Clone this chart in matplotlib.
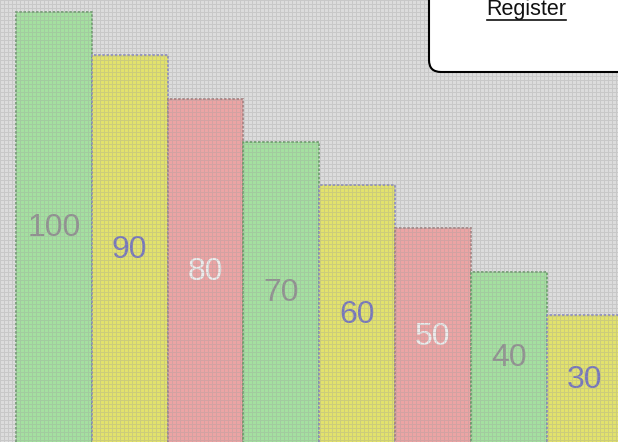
import numpy as np
import matplotlib
matplotlib.use("Agg")
import matplotlib.pyplot as plt
from matplotlib.patches import FancyBboxPatch
from matplotlib.lines import Line2D

values = [100, 90, 80, 70, 60, 50, 40, 30]
labels = ["100", "90", "80", "70", "60", "50", "40", "30"]
bar_colors = ["#a4e0a0", "#e2e26c", "#eca4a4", "#a4e0a0", "#e2e26c", "#eca4a4", "#a4e0a0", "#e2e26c"]
edge_colors = ["#6a9a6a", "#8a8ac0", "#a08080", "#6a9a6a", "#8a8ac0", "#a08080", "#6a9a6a", "#8a8ac0"]
text_colors = ["#909090", "#7676bc", "#ececec", "#909090", "#7676bc", "#ececec", "#909090", "#7676bc"]

plt.rcParams['font.family'] = ['Liberation Sans', 'DejaVu Sans']

fig = plt.figure(figsize=(6.18, 4.42), dpi=100)
fig.patch.set_facecolor("#dcdcdc")
ax = fig.add_axes([0, 0, 1, 1])
ax.set_facecolor("#dcdcdc")

x = np.arange(len(values))
ax.bar(x, values, width=1.0, color=bar_colors, edgecolor=edge_colors,
       linewidth=1.2, linestyle=(0, (1.5, 1)), zorder=2)
for xi, v, lab, tc in zip(x, values, labels, text_colors):
    ax.text(xi, v / 2, lab, ha="center", va="center", fontsize=23, color=tc, zorder=4)

ax.set_xlim(-0.711, 7.442)
ax.set_ylim(0.69, 102.77)
ax.axis("off")

# fine grid texture over everything
H, W = 442, 618
tex = np.zeros((H, W, 4))
tex[..., :3] = 0.62
for i in range(0, W, 4):
    tex[:, i, 3] = 0.32
for j in range(0, H, 4):
    tex[j, :, 3] = np.maximum(tex[j, :, 3], 0.32)
tax = fig.add_axes([0, 0, 1, 1], zorder=3)
tax.imshow(tex, aspect="auto", interpolation="nearest")
tax.axis("off")

# Register box
box_ax = fig.add_axes([0, 0, 1, 1], zorder=5)
box_ax.set_xlim(0, W)
box_ax.set_ylim(H, 0)
box_ax.axis("off")
box = FancyBboxPatch((429, -30), 230, 102, boxstyle="round,pad=0,rounding_size=12",
                     facecolor="white", edgecolor="black", linewidth=1.5)
box_ax.add_patch(box)
box_ax.text(526, 9, "Register", ha="center", va="center", fontsize=15.5, color="#111111")
box_ax.add_line(Line2D([487, 566], [19.5, 19.5], color="#111111", linewidth=1.2))

fig.savefig("out.png", dpi=100)
